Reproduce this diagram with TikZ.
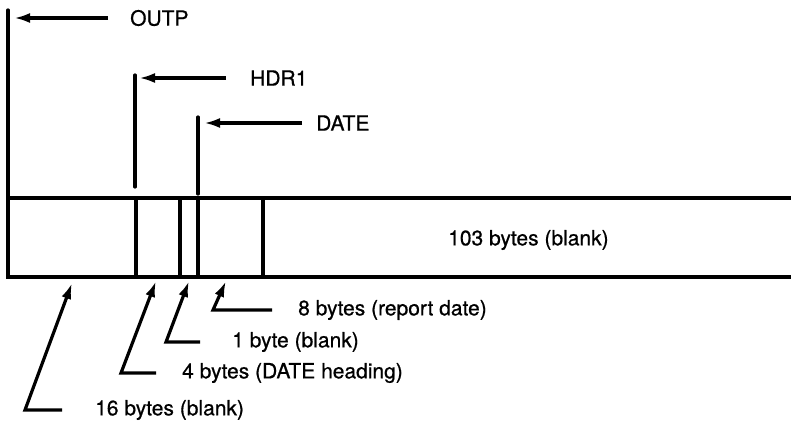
\documentclass[tikz,border=0pt]{standalone}
\usepackage{fontspec}
\setmainfont{TeX Gyre Heros}
\newfontfamily\lblfont{TeX Gyre Heros}[FakeBold=0.7]
\usetikzlibrary{arrows.meta,positioning,calc}

\begin{document}
\begin{tikzpicture}[
    x=1pt, y=-1pt,
    rule/.style={line width=3.2pt, line cap=round},
    ptr/.style={-{Latex[length=16pt, width=10pt]}, line width=3.2pt},
    lbl/.style={font=\lblfont\fontsize{21}{24}\selectfont, inner sep=2pt, anchor=west}
]
\useasboundingbox (0,0) rectangle (791,425);

% Record
\draw[rule] (791,198) -- (8,198) -- (8,277) -- (791,277);
\foreach \xx in {136,180,198,263}
  \draw[rule] (\xx,198) -- (\xx,277);
\node[lbl] (rest) at (446,240) {103 bytes (blank)};

% Field markers
\draw[rule] (8,10) -- (8,198);
\draw[rule] (135,75) -- (135,187);
\draw[rule] (198,117) -- (198,194);

\coordinate (outp) at (14,18);
\coordinate (hdr) at (139,78);
\coordinate (date) at (204,123);
\node[lbl] (outpl) at (128,18) {OUTP};
\node[lbl] (hdrl) at (248,78) {HDR1};
\node[lbl] (datel) at (314,123) {DATE};
\draw[ptr] ($(outpl.west)+(-20,0)$) -- (outp);
\draw[ptr] ($(hdrl.west)+(-22,0)$) -- (hdr);
\draw[ptr] ($(datel.west)+(-12,0)$) -- (date);

% Field sizes
\coordinate (t8) at (226,281);
\coordinate (b8) at (213,310);
\coordinate (t1) at (189,281);
\coordinate (b1) at (166,342);
\coordinate (t4) at (156,281);
\coordinate (b4) at (121,373);
\coordinate (t16) at (72,283);
\coordinate (b16) at (25,410);

\node[lbl] (l8) at (296,310) {8 bytes (report date)};
\node[lbl] (l1) at (230,342) {1 byte (blank)};
\node[lbl] (l4) at (180,373) {4 bytes (DATE heading)};
\node[lbl] (l16) at (93,410) {16 bytes (blank)};

\draw[ptr] ($(l8.west)+(-24,0)$) -- (b8) -- (t8);
\draw[ptr] ($(l1.west)+(-30,0)$) -- (b1) -- (t1);
\draw[ptr] ($(l4.west)+(-24,0)$) -- (b4) -- (t4);
\draw[ptr] ($(l16.west)+(-31,0)$) -- (b16) -- (t16);

\end{tikzpicture}
\end{document}
